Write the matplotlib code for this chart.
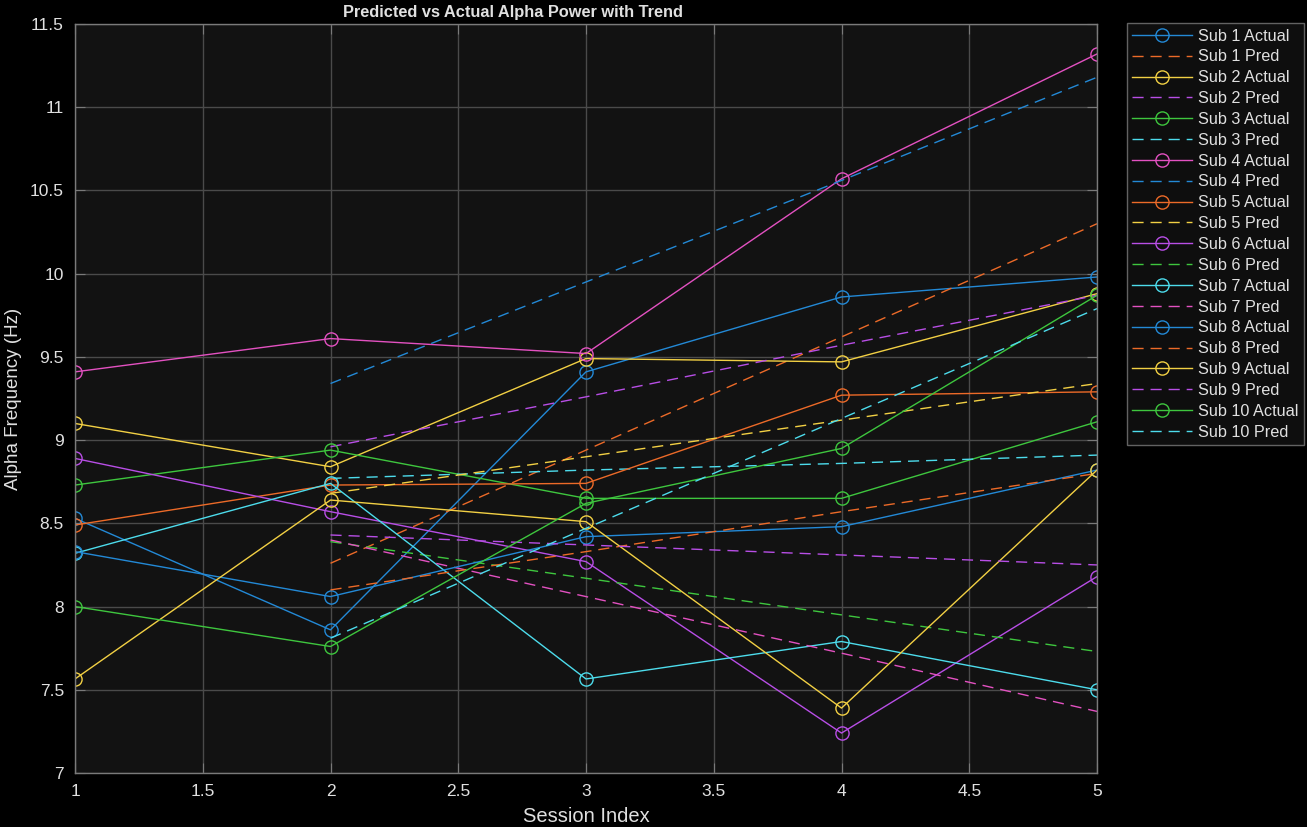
import matplotlib
matplotlib.use("Agg")
import matplotlib.pyplot as plt
from matplotlib.ticker import MultipleLocator, FormatStrFormatter
import numpy as np

sessions = [1, 2, 3, 4, 5]
pred_sessions = [2, 3, 4, 5]

sub1_actual = [8.53, 7.86, 9.41, 9.86, 9.98]
sub1_pred = [8.26, 8.94, 9.62, 10.30]
sub2_actual = [9.10, 8.84, 9.49, 9.47, 9.88]
sub2_pred = [8.96, 9.26, 9.57, 9.87]
sub3_actual = [8.73, 8.94, 8.65, 8.65, 9.11]
sub3_pred = [8.77, 8.82, 8.86, 8.91]
sub4_actual = [9.41, 9.61, 9.52, 10.57, 11.32]
sub4_pred = [9.34, 9.95, 10.56, 11.18]
sub5_actual = [8.49, 8.73, 8.74, 9.27, 9.29]
sub5_pred = [8.68, 8.90, 9.12, 9.34]
sub6_actual = [8.89, 8.57, 8.27, 7.24, 8.18]
sub6_pred = [8.39, 8.17, 7.95, 7.73]
sub7_actual = [8.32, 8.74, 7.565, 7.79, 7.50]
sub7_pred = [8.40, 8.06, 7.72, 7.37]
sub8_actual = [8.33, 8.06, 8.42, 8.48, 8.82]
sub8_pred = [8.10, 8.33, 8.57, 8.80]
sub9_actual = [7.565, 8.64, 8.51, 7.39, 8.82]
sub9_pred = [8.43, 8.37, 8.31, 8.25]
sub10_actual = [8.00, 7.76, 8.62, 8.95, 9.87]
sub10_pred = [7.81, 8.47, 9.13, 9.79]

actuals = [sub1_actual, sub2_actual, sub3_actual, sub4_actual, sub5_actual,
           sub6_actual, sub7_actual, sub8_actual, sub9_actual, sub10_actual]
preds = [sub1_pred, sub2_pred, sub3_pred, sub4_pred, sub5_pred,
         sub6_pred, sub7_pred, sub8_pred, sub9_pred, sub10_pred]

color_cycle = ["#2389d6", "#ec6a28", "#f2d044", "#b84ee6", "#3ec63e", "#4ddcec", "#e351c1"]

W, H = 1307, 827
fig = plt.figure(figsize=(W / 100, H / 100), dpi=100, facecolor="black")
ax = fig.add_axes([75 / W, (H - 773) / H, (1097 - 75) / W, (773 - 24) / H])
ax.set_facecolor("#121212")

k = 0
for i in range(10):
    c = color_cycle[k % 7]; k += 1
    ax.plot(sessions, actuals[i], "-o", color=c, lw=1.0, ms=9.5,
            mfc="none", mec=c, mew=1.0, label=f"Sub {i+1} Actual")
    c = color_cycle[k % 7]; k += 1
    ax.plot(pred_sessions, preds[i], "--", color=c, lw=1.0,
            dashes=(8, 5), label=f"Sub {i+1} Pred")

ax.set_xlim(1, 5)
ax.set_ylim(7, 11.5)
ax.xaxis.set_major_locator(MultipleLocator(0.5))
ax.yaxis.set_major_locator(MultipleLocator(0.5))
ax.xaxis.set_major_formatter(FormatStrFormatter("%g"))
ax.yaxis.set_major_formatter(FormatStrFormatter("%g"))
ax.grid(True, color="#4a4a4a", lw=1.0)
ax.set_axisbelow(True)
for s in ax.spines.values():
    s.set_color("#7a7a7a")
    s.set_linewidth(1.0)
ax.tick_params(direction="in", length=7, color="#7a7a7a", labelcolor="#e0e0e0",
               labelsize=12.5, top=True, right=True, pad=8)

fam = ["Liberation Sans", "DejaVu Sans"]
for lab in ax.get_xticklabels() + ax.get_yticklabels():
    lab.set_family(fam)

ax.set_xlabel("Session Index", fontsize=14.5, color="#e0e0e0", family=fam, labelpad=6)
ax.set_ylabel("Alpha Frequency (Hz)", fontsize=13.5, color="#e0e0e0", family=fam, labelpad=6)
fig.text(513 / W, 1 - 12 / H, "Predicted vs Actual Alpha Power with Trend", fontsize=11.8,
         fontweight="bold", color="#e0e0e0", family=fam, ha="center", va="center")

leg = ax.legend(loc="upper right", bbox_to_anchor=(1304 / W, 1 - 23 / H), bbox_transform=fig.transFigure,
                frameon=True, facecolor="#121212", edgecolor="#7a7a7a",
                labelcolor="#e0e0e0", handlelength=3.7, labelspacing=0.36,
                borderpad=0.34, handletextpad=0.35, borderaxespad=0,
                prop={"family": fam, "size": 11.7})
leg.get_frame().set_linewidth(1.0)
leg.get_frame().set_boxstyle("square", pad=0)

fig.savefig("out.png", dpi=100, facecolor="black")
